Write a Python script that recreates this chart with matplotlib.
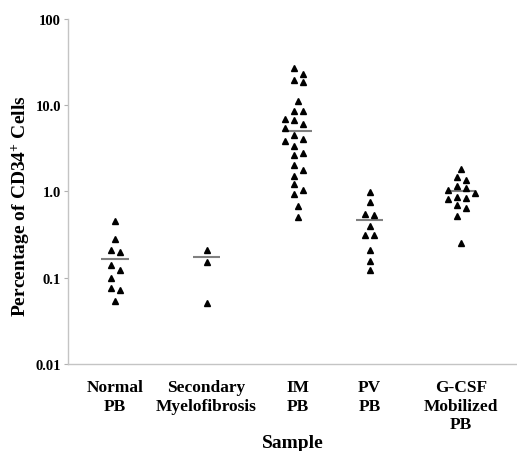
import matplotlib
matplotlib.use("Agg")
import matplotlib.pyplot as plt
import numpy as np

# values (percentage of CD34+ cells)
categories = ["Normal\nPB", "Secondary\nMyelofibrosis", "IM\nPB", "PV\nPB", "G-CSF\nMobilized\nPB"]
normal_pb = [0.45, 0.28, 0.21, 0.20, 0.14, 0.123, 0.10, 0.076, 0.073, 0.054]
secondary_mf = [0.21, 0.151, 0.051]
im_pb = [27, 23, 19.6, 18.5, 11.3, 8.5, 8.5, 6.9, 6.8, 6.1, 5.5, 4.56, 4.0, 3.8,
         3.35, 2.77, 2.65, 2.0, 1.78, 1.53, 1.22, 1.04, 0.94, 0.67, 0.50]
pv_pb = [0.99, 0.76, 0.55, 0.53, 0.40, 0.31, 0.31, 0.21, 0.158, 0.123]
gcsf_pb = [1.82, 1.46, 1.36, 1.17, 1.09, 1.04, 0.96, 0.87, 0.83, 0.82, 0.69, 0.64, 0.52, 0.25]
medians = [0.165, 0.172, 5.07, 0.47, 1.02]

groups = [normal_pb, secondary_mf, im_pb, pv_pb, gcsf_pb]
xpos = [1, 2, 3, 3.78, 4.78]

plt.rcParams['font.family'] = ['Liberation Serif', 'DejaVu Serif']
plt.rcParams['font.weight'] = 'bold'
plt.rcParams['axes.labelweight'] = 'bold'
plt.rcParams['mathtext.fontset'] = 'custom'
plt.rcParams['mathtext.rm'] = 'Liberation Serif:bold'
plt.rcParams['mathtext.bf'] = 'Liberation Serif:bold'
plt.rcParams['mathtext.default'] = 'rm'

fig = plt.figure(figsize=(5.17, 4.52), dpi=100)
ax = fig.add_axes([0.1315, 0.1925, 0.8685, 0.7635])

ax.set_yscale('log')
ax.set_ylim(0.01, 100)
ax.set_xlim(0.486, 5.39)

# rough pixel scales, used only to spread the points sideways (beeswarm)
px_per_unit = 91.5
px_per_decade = 86.25
step = 9.0
min_dist = 8.0


def swarm(vals):
    ys = np.log10(vals) * px_per_decade
    placed = []
    offs = np.zeros(len(vals))
    cands = [-0.5, 0.5, -1.5, 1.5, -2.5, 2.5]
    for i in np.argsort(-ys):
        isolated = all(abs(ys[i] - ys[j]) >= min_dist for j in range(len(ys)) if j != i)
        tries = [0.0] if isolated else [c * step for c in cands]
        for o in tries:
            if all(np.hypot(o - po, ys[i] - py) >= min_dist for po, py in placed):
                break
        offs[i] = o
        placed.append((o, ys[i]))
    return offs / px_per_unit


for x, vals, med in zip(xpos, groups, medians):
    offs = swarm(vals)
    ax.plot(x + offs, vals, linestyle='none', marker='^', markersize=4.2,
            color='black', zorder=3)
    ax.hlines(med, x - 0.15, x + 0.15, color='#808080', linewidth=1.5, zorder=2)

ax.set_yticks([0.01, 0.1, 1, 10, 100])
ax.set_yticklabels(["0.01", "0.1", "1.0", "10.0", "100"])
ax.minorticks_off()
ax.set_xticks(xpos)
ax.set_xticklabels(categories, fontsize=12.5)

ax.tick_params(axis='y', length=3, color='#b0b0b0', labelsize=10.5, pad=2)
ax.tick_params(axis='x', length=0, pad=11)

for side in ['top', 'right']:
    ax.spines[side].set_visible(False)
for side in ['left', 'bottom']:
    ax.spines[side].set_color('#c4c4c4')
    ax.spines[side].set_linewidth(1.0)

ax.set_ylabel("Percentage of CD34$^{+}$ Cells", fontsize=14)
ax.yaxis.set_label_coords(-0.08, 0.46)
ax.set_xlabel("Sample", fontsize=14, labelpad=1.5)

fig.savefig("out.png", dpi=100)
